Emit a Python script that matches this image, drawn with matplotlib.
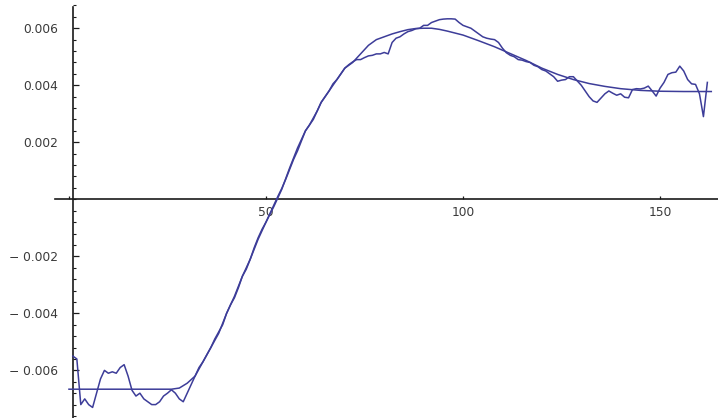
"""
Measured signal against its fitted response curve, drawn in a plain
axes-through-origin style.
"""
import matplotlib
matplotlib.use("Agg")
import matplotlib.pyplot as plt
import numpy as np
from matplotlib.ticker import FixedLocator, MultipleLocator

LINE_COLOR = "#3d3d99"
AXIS_COLOR = "#1a1a1a"
LABEL_COLOR = "#3a3a3a"

# measured samples, one per index starting at 1
signal = [
    -0.0055, -0.0056, -0.0072, -0.0070, -0.0072, -0.0073, -0.0068, -0.0063, -0.0060, -0.0061,
    -0.00605, -0.0061, -0.0059, -0.0058, -0.0062, -0.0067, -0.0069, -0.0068, -0.0070, -0.0071,
    -0.0072, -0.0072, -0.0071, -0.0069, -0.0068, -0.00668, -0.0068, -0.0070, -0.0071, -0.0068,
    -0.0065, -0.0062, -0.0059, -0.0057, -0.00545, -0.0052, -0.0049, -0.00465, -0.0044, -0.0040,
    -0.0037, -0.00345, -0.0031, -0.0027, -0.00245, -0.0021, -0.0017, -0.00135, -0.00105, -0.0008,
    -0.0005, -0.0002, 0.0001, 0.00038, 0.0007, 0.00105, 0.0014, 0.0017, 0.00205, 0.0024,
    0.0026, 0.00285, 0.0031, 0.0034, 0.0036, 0.0038, 0.00405, 0.0042, 0.0044, 0.0046,
    0.00472, 0.00482, 0.0049, 0.0049, 0.00497, 0.00503, 0.00505, 0.0051, 0.0051, 0.00515,
    0.0051, 0.0055, 0.00565, 0.0057, 0.0058, 0.00588, 0.00592, 0.00598, 0.0060, 0.0061,
    0.0061, 0.0062, 0.00625, 0.0063, 0.00632, 0.00633, 0.00633, 0.00632, 0.0062, 0.0061,
    0.00605, 0.0060, 0.0059, 0.0058, 0.0057, 0.00565, 0.00562, 0.0056, 0.0055, 0.0053,
    0.00514, 0.00505, 0.0050, 0.0049, 0.00488, 0.00483, 0.0048, 0.0047, 0.00465, 0.00455,
    0.0045, 0.0044, 0.0043, 0.00414, 0.00418, 0.0042, 0.0043, 0.0043, 0.00415, 0.0040,
    0.0038, 0.0036, 0.00345, 0.0034, 0.00355, 0.0037, 0.0038, 0.00372, 0.00365, 0.0037,
    0.00358, 0.00356, 0.00385, 0.00388, 0.00387, 0.0039, 0.00397, 0.0038, 0.00362, 0.0039,
    0.0041, 0.00438, 0.00444, 0.00446, 0.00467, 0.0045, 0.0042, 0.00405, 0.00403, 0.0037,
    0.0029, 0.0041,
]

# fitted model curve
fit_x = [0, 26, 28, 30, 32, 34, 36, 38, 40, 42, 44, 46, 48, 50, 52, 54, 56, 58, 60, 62,
         64, 66, 68, 70, 72, 74, 76, 78, 80, 82, 84, 86, 88, 90, 92, 94, 96, 98, 100,
         104, 108, 112, 116, 120, 124, 128, 132, 136, 140, 145, 150, 156, 163]
fit_y = [-0.00666, -0.00666, -0.00662, -0.00645, -0.0062, -0.0057, -0.0052, -0.0047, -0.0040,
         -0.0034, -0.0027, -0.0021, -0.0014, -0.0008, -0.00025, 0.00035, 0.0011, 0.0018,
         0.0024, 0.0028, 0.0034, 0.0038, 0.0042, 0.0046, 0.0048, 0.0051, 0.0054, 0.0056,
         0.0057, 0.0058, 0.00588, 0.00595, 0.00599, 0.0060, 0.0060, 0.00596, 0.0059, 0.00583,
         0.00576, 0.00556, 0.00535, 0.00511, 0.00487, 0.0046, 0.00438, 0.0042, 0.00406,
         0.00396, 0.00388, 0.00382, 0.00379, 0.00378, 0.00378]

x_ticks = [0, 50, 100, 150]
x_tick_labels = ["", "50", "100", "150"]
y_ticks = [-0.006, -0.004, -0.002, 0.002, 0.004, 0.006]
y_tick_labels = ["\u2212 0.006", "\u2212 0.004", "\u2212 0.002", "0.002", "0.004", "0.006"]


def run():
    plt.rcParams["font.family"] = ["DejaVu Sans"]
    fig = plt.figure(figsize=(7.18, 4.18), dpi=100)
    ax = fig.add_axes([0, 0, 1, 1])
    ax.patch.set_visible(False)

    x_signal = np.arange(1, len(signal) + 1)
    ax.plot(x_signal, signal, color=LINE_COLOR, lw=1.1, zorder=3)
    ax.plot(fit_x, fit_y, color=LINE_COLOR, lw=1.1, zorder=3)

    ax.set_xlim(-17.5, 164.7)
    ax.set_ylim(-0.00767, 0.00699)

    # axes cross at (1, 0)
    for side in ("top", "right"):
        ax.spines[side].set_visible(False)
    ax.spines["left"].set_position(("data", 1))
    ax.spines["bottom"].set_position(("data", 0))
    ax.spines["left"].set_bounds(-0.0077, 0.00675)
    ax.spines["bottom"].set_bounds(-3.5, 164.7)
    for side in ("left", "bottom"):
        ax.spines[side].set_color(AXIS_COLOR)
        ax.spines[side].set_linewidth(1.2)
        ax.spines[side].set_zorder(2)

    ax.xaxis.set_major_locator(FixedLocator(x_ticks))
    ax.set_xticklabels(x_tick_labels)
    ax.yaxis.set_major_locator(FixedLocator(y_ticks))
    ax.set_yticklabels(y_tick_labels)
    ax.yaxis.set_minor_locator(MultipleLocator(0.0004))

    ax.tick_params(axis="x", which="major", direction="in", length=2.4, width=0.9,
                   color=AXIS_COLOR, labelsize=8.8, labelcolor=LABEL_COLOR, pad=4.5)
    ax.tick_params(axis="y", which="major", direction="in", length=4.2, width=0.9,
                   color=AXIS_COLOR, labelsize=8.8, labelcolor=LABEL_COLOR, pad=10.8)
    ax.tick_params(axis="y", which="minor", direction="in", length=2.4, width=0.8,
                   color=AXIS_COLOR)

    fig.savefig("out.png", dpi=100)
    plt.close(fig)


if __name__ == "__main__":
    run()
